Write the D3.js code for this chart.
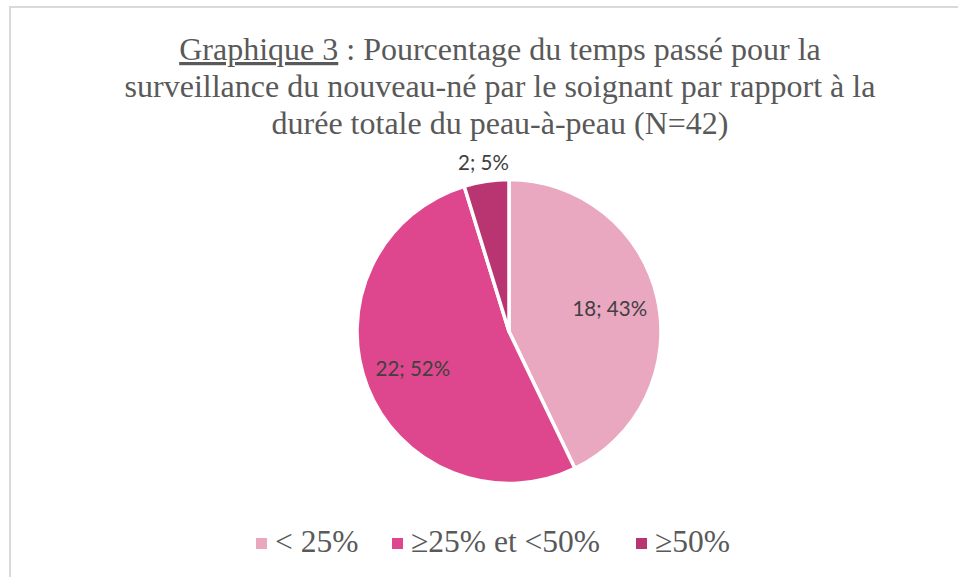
<!DOCTYPE html>
<html><head><meta charset="utf-8">
<script src="https://cdn.jsdelivr.net/npm/d3@7"></script>
<style>body{margin:0;background:#fff}svg{display:block}
.serif{font-family:"Liberation Serif","Times New Roman",Tinos,"DejaVu Serif",serif}
.sans{font-family:Lato,"Open Sans",sans-serif}</style>
</head><body>
<script>
const categories = ["< 25%", "≥25% et <50%", "≥50%"];
const counts = [18, 22, 2];
const percents = ["43%", "52%", "5%"];
const colors = ["#eaa7c0", "#de478d", "#b83572"];
const titleLines = ["Graphique 3 : Pourcentage du temps passé pour la",
  "surveillance du nouveau-né par le soignant par rapport à la",
  "durée totale du peau-à-peau (N=42)"];

const W = 958, H = 577;
const svg = d3.select("body").append("svg").attr("width", W).attr("height", H);
svg.append("rect").attr("width", W).attr("height", H).attr("fill", "#fff");
svg.append("path").attr("d", `M10,${H} V7 H${W}`).attr("fill", "none")
  .attr("stroke", "#d9d9d9").attr("stroke-width", 2);

const title = svg.append("text").attr("class", "serif").attr("text-anchor", "middle")
  .style("font-size", "32px").attr("fill", "#595959");
titleLines.forEach((l, i) => {
  const t = title.append("tspan").attr("x", 500).attr("y", 60 + i * 37);
  if (i === 0) {
    t.append("tspan").attr("text-decoration", "underline").text("Graphique 3");
    t.append("tspan").text(l.slice("Graphique 3".length));
  } else t.text(l);
});

const cx = 509, cy = 331.5, r = 152;
const pie = d3.pie().sort(null).value(d => d)(counts);
const arc = d3.arc().innerRadius(0).outerRadius(r);
const g = svg.append("g").attr("transform", `translate(${cx},${cy})`);
g.selectAll("path.slice").data(pie).join("path").attr("class", "slice")
  .attr("d", arc).attr("fill", (d, i) => colors[i])
  .attr("stroke", "#fff").attr("stroke-width", 3.5).attr("stroke-linejoin", "round");

g.selectAll("text.lbl").data(pie).join("text").attr("class", "lbl sans")
  .attr("transform", d => {
    const small = (d.endAngle - d.startAngle) < 0.5;
    const lr = small ? r + 19 : r * 0.68;
    const a = (d.startAngle + d.endAngle) / 2;
    return `translate(${lr * Math.sin(a)},${-lr * Math.cos(a)})`;
  })
  .attr("text-anchor", "middle").attr("dy", "0.35em")
  .style("font-size", "20.5px").attr("fill", "#404040")
  .text((d, i) => `${counts[i]}; ${percents[i]}`);

const legendX = [256, 392, 636];
const lg = svg.append("g");
categories.forEach((c, i) => {
  lg.append("rect").attr("x", legendX[i]).attr("y", 538).attr("width", 11).attr("height", 11)
    .attr("fill", colors[i]);
  lg.append("text").attr("class", "serif").attr("x", legendX[i] + 19).attr("y", 552)
    .style("font-size", "31.5px").attr("fill", "#595959").text(c);
});
</script>
</body></html>
